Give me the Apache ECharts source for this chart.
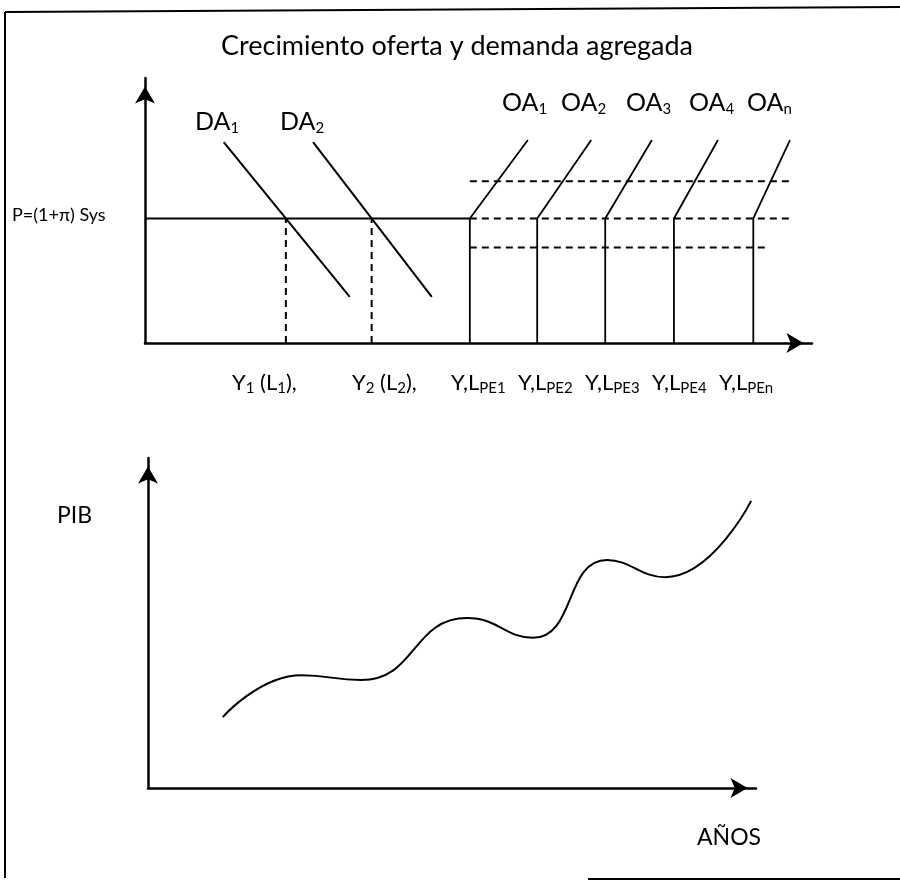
<!DOCTYPE html>
<html>
<head>
<meta charset="utf-8">
<script src="https://cdn.jsdelivr.net/npm/echarts@6/dist/echarts.min.js"></script>
<style>html,body{margin:0;padding:0;background:#fff}#c{width:900px;height:882px}</style>
</head>
<body>
<div id="c"></div>
<script>
// ---------- data (top panel: price vs output, units 0..100) ----------
const priceLevel = 47;            // P=(1+π) Sys
const upperDashLevel = 61;
const lowerDashLevel = 36;
const da1 = [[11.8, 75.8], [30.7, 17.4]];
const da2 = [[25.2, 75.8], [43.0, 17.4]];
const oaBaseX = [48.7, 58.8, 69.0, 79.3, 91.2];
const oaTopX = [57.4, 66.9, 76.0, 85.9, 96.7];
const oaTopY = 76.6;
const dashEndUpper = 97.0;
const dashEndLower = 93.4;
const oaSubs = ['1', '2', '3', '4', 'n'];
const lpeSubs = ['PE1', 'PE2', 'PE3', 'PE4', 'PEn'];

// ---------- data (bottom panel: PIB over years, units 0..100) ----------
const pibYears = [12.3, 25.2, 35.0, 52.5, 63.3, 75.5, 85.0, 99.2];
const pibValues = [21.5, 34.2, 32.7, 51.5, 45.5, 69.1, 63.9, 87.0];

// ---------- helpers ----------
function crossX(seg, y) {
  const [[x1, y1], [x2, y2]] = seg;
  return x1 + (y - y1) * (x2 - x1) / (y2 - y1);
}
const FONT = 'Lato, "Open Sans", sans-serif';
const black = '#000';
const arrowAxis = (gridIndex) => ({
  gridIndex, type: 'value', min: 0, max: 100,
  axisLine: { show: true, symbol: ['none', 'arrow'], symbolSize: [15, 17], symbolOffset: [0, -8.5],
    lineStyle: { color: black, width: 2.5 } },
  axisTick: { show: false }, axisLabel: { show: false }, splitLine: { show: false }
});
function seg(data, opts) {
  return Object.assign({
    type: 'line', xAxisIndex: 0, yAxisIndex: 0, data, showSymbol: false, symbol: 'none',
    silent: true, animation: false, lineStyle: { color: black, width: 2 }
  }, opts || {});
}

const series = [];
series.push(seg([[0, priceLevel], [oaBaseX[0], priceLevel]]));
series.push(seg(da1));
series.push(seg(da2));
[da1, da2].forEach(d => {
  const x = crossX(d, priceLevel);
  series.push(seg([[x, 0], [x, priceLevel]], { lineStyle: { color: black, width: 2, type: [7, 5] } }));
});
oaBaseX.forEach((x, i) => {
  series.push(seg([[x, 0], [x, priceLevel], [oaTopX[i], oaTopY]], { lineStyle: { color: black, width: 1.8 } }));
});
const dashStyle = { lineStyle: { color: black, width: 2, type: [7, 5] } };
series.push(seg([[oaBaseX[0], upperDashLevel], [dashEndUpper, upperDashLevel]], dashStyle));
series.push(seg([[oaBaseX[0], priceLevel], [dashEndUpper, priceLevel]], dashStyle));
series.push(seg([[oaBaseX[0], lowerDashLevel], [dashEndLower, lowerDashLevel]], dashStyle));
series.push(seg(pibYears.map((x, i) => [x, pibValues[i]]),
  { xAxisIndex: 1, yAxisIndex: 1, smooth: 0.5, lineStyle: { color: black, width: 2 } }));

const rich = {
  b: { fontFamily: FONT, fontSize: 25, lineHeight: 29, color: black },
  s: { fontFamily: FONT, fontSize: 15, lineHeight: 15, padding: [13, 0, 0, 0], color: black },
  b2: { fontFamily: FONT, fontSize: 22, lineHeight: 26, color: black },
  s2: { fontFamily: FONT, fontSize: 15, lineHeight: 15, padding: [11, 0, 0, 0], color: black }
};
function txt(x, y, text, font) {
  const style = { text, fill: black, verticalAlign: 'middle', align: 'left' };
  if (font) style.font = font; else style.rich = rich;
  return { type: 'text', x, y, silent: true, style };
}
const graphics = [
  { type: 'line', shape: { x1: 5, y1: 12, x2: 900, y2: 7 }, style: { stroke: black, lineWidth: 2 } },
  { type: 'line', shape: { x1: 5, y1: 12, x2: 5, y2: 878 }, style: { stroke: black, lineWidth: 2 } },
  { type: 'line', shape: { x1: 588, y1: 879, x2: 900, y2: 879 }, style: { stroke: black, lineWidth: 2 } },
  txt(195, 122, '{b|DA}{s|1}'),
  txt(280, 122, '{b|DA}{s|2}'),
  txt(12, 215, 'P=(1+π) Sys', '18px ' + FONT),
  txt(232, 383, '{b2|Y}{s2|1}{b2| (L}{s2|1}{b2|),}'),
  txt(352, 383, '{b2|Y}{s2|2}{b2| (L}{s2|2}{b2|),}'),
  txt(57, 516, 'PIB', '23px ' + FONT),
  txt(697, 838, 'AÑOS', '23px ' + FONT)
];
const oaLabelX = [502, 561, 626, 689, 747];
oaSubs.forEach((s, i) => graphics.push(txt(oaLabelX[i], 103, '{b|OA}{s|' + s + '}')));
const lpeLabelX = [451, 518, 585, 652, 719];
lpeSubs.forEach((s, i) => graphics.push(txt(lpeLabelX[i], 383, '{b2|Y,L}{s2|' + s + '}')));

const chart = echarts.init(document.getElementById('c'), null, { renderer: 'canvas' });
chart.setOption({
  backgroundColor: '#fff',
  animation: false,
  title: { text: 'Crecimiento oferta y demanda agregada', left: 216, top: 28,
    textStyle: { fontFamily: FONT, fontSize: 27, fontWeight: 'normal', color: black } },
  grid: [
    { left: 145, top: 78, width: 667, height: 265 },
    { left: 148, top: 458, width: 608, height: 330 }
  ],
  xAxis: [arrowAxis(0), arrowAxis(1)],
  yAxis: [arrowAxis(0), arrowAxis(1)],
  series,
  graphic: graphics
});
</script>
</body>
</html>
